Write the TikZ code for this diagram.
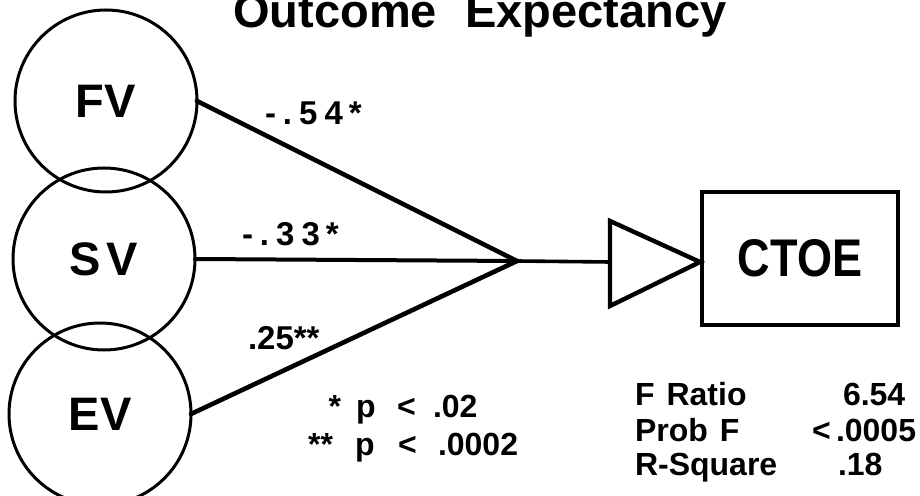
\documentclass[tikz,border=0pt]{standalone}
\usepackage{fontspec}
\setmainfont{Liberation Sans}
\usepackage{graphicx}
\begin{document}
\begin{tikzpicture}[x=0.5pt,y=-0.5pt,
  every node/.style={inner sep=0pt, outer sep=0pt},
  var/.style={circle, draw, line width=1.5pt, minimum size=91pt, font=\fontsize{23.5}{27}\selectfont\bfseries},
  conn/.style={line width=2.3pt, line cap=round},
  coef/.style={font=\fontsize{16.5}{19}\selectfont\bfseries, anchor=base west},
  note/.style={font=\fontsize{16}{18}\selectfont\bfseries, anchor=base west},
]
\useasboundingbox (0,0) rectangle (920,496);

% title
\node[font=\fontsize{23.5}{26}\selectfont\bfseries, anchor=base] (title) at (480,28) {Outcome\hspace{0.6em}Expectancy};

% variables
\node[var] (fv) at (106,101) {FV};
\node[var] (sv) at (104,259) {S\hspace{3pt}V};
\node[var] (ev) at (100,414) {EV};

% junction and connectors
\coordinate (j) at (517,261);
\draw[conn] (fv.east) -- (j);
\draw[conn, line width=2pt] (sv.east) -- (j);
\draw[conn] (ev.east) -- (j);

% triangle
\coordinate (tw) at (610,262);
\coordinate (tt) at (610,221);
\coordinate (ta) at (700,262);
\coordinate (tb) at (610,306);
\draw[line width=1.8pt] (j) -- (tw);
\draw[line width=2.2pt, line join=miter] (tt) -- (ta) -- (tb) -- cycle;

% outcome box
\node[draw, line width=2pt, minimum width=98pt, minimum height=66.5pt,
      font=\fontsize{26.5}{30}\selectfont\bfseries] (ctoe) at (800,258.5) {\scalebox{0.85}[1]{CTOE}};

% coefficients
\node[coef] (c1) at (265,125) {-\hspace{3.5pt}.\hspace{3.5pt}5\hspace{3.5pt}4\hspace{3pt}*};
\node[coef] (c2) at (242,246) {-\hspace{3.5pt}.\hspace{3.5pt}3\hspace{3.5pt}3\hspace{3pt}*};
\node[coef] (c3) at (248,350) {.25**};

% significance notes
\node[note, anchor=base east] (s1) at (341,417) {*};
\node[note] (p1) at (356,417) {p};
\node[note] (l1) at (397,417) {<};
\node[note] (v1) at (433,417) {.02};
\node[note, anchor=base east] (s2) at (333,455) {**};
\node[note] (p2) at (355,455) {p};
\node[note] (l2) at (398,455) {<};
\node[note] (v2) at (438,455) {.0002};

% statistics
\node[note] (fr) at (635,405) {F\hspace{6pt}Ratio};
\node[note] (frv) at (843,405) {6.54};
\node[note] (pf) at (635,441) {Prob\hspace{6pt}F};
\node[note] (pfl) at (812,441) {<};
\node[note] (pfv) at (836,441) {.0005};
\node[note] (rs) at (635,475) {R-Square};
\node[note] (rsv) at (838,475) {.18};
\end{tikzpicture}
\end{document}
